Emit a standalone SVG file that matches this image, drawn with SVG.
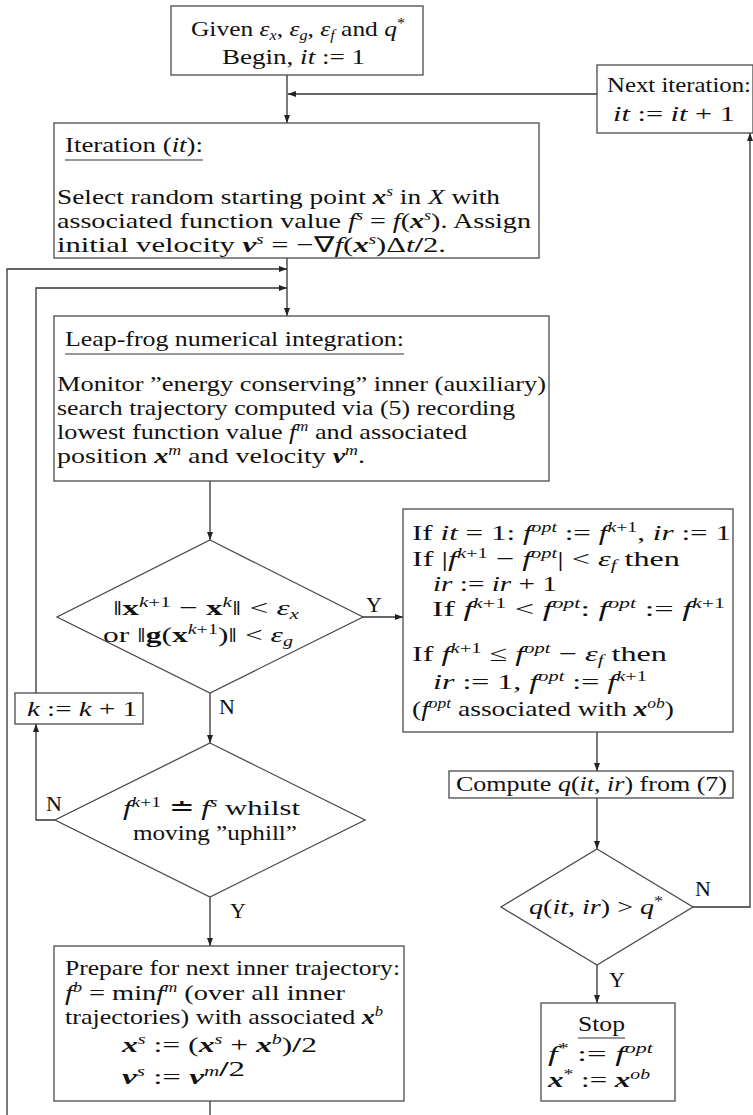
<svg xmlns="http://www.w3.org/2000/svg" width="753" height="1115" viewBox="0 0 753 1115">
<style>
.t{font-family:"Liberation Serif","Times New Roman",serif;font-size:22px;fill:#111}
.i{font-style:italic}
.b{font-style:italic;font-weight:bold}
.bu{font-weight:bold}
.s{font-size:14px;font-style:italic}
.sr{font-size:14px}
.box{fill:#fff;stroke:#4a4a4a;stroke-width:1.3}
.ln{fill:none;stroke:#333;stroke-width:1.3}
.ul{stroke:#333;stroke-width:1.2}
</style>
<defs>
<marker id="ah" markerUnits="userSpaceOnUse" markerWidth="8" markerHeight="6" refX="8" refY="3" orient="auto"><path d="M0,0 L8,3 L0,6 z" fill="#222"/></marker>
</defs>
<rect width="753" height="1115" fill="#fff"/>
<g id="connectors" class="ln">
<path d="M287,75 V123" marker-end="url(#ah)"/>
<path d="M597,94 H288" marker-end="url(#ah)"/>
<path d="M693,907 H750 V133" marker-end="url(#ah)"/>
<path d="M287,258 V316" marker-end="url(#ah)"/>
<path d="M7,1115 V269 H287" marker-end="url(#ah)"/>
<path d="M36,693 V288 H287" marker-end="url(#ah)"/>
<path d="M210,481 V540" marker-end="url(#ah)"/>
<path d="M363,617 H403" marker-end="url(#ah)"/>
<path d="M210,693 V743" marker-end="url(#ah)"/>
<path d="M55,820 H36 V724" marker-end="url(#ah)"/>
<path d="M210,897 V946" marker-end="url(#ah)"/>
<path d="M210,1101 V1115"/>
<path d="M597,732 V771" marker-end="url(#ah)"/>
<path d="M597,798 V849" marker-end="url(#ah)"/>
<path d="M597,965 V1003" marker-end="url(#ah)"/>
</g>
<g id="start">
<rect class="box" x="171" y="6" width="252" height="69"/>
<text class="t" x="191" y="36" textLength="214" lengthAdjust="spacingAndGlyphs">Given <tspan class="i">ε</tspan><tspan class="s" dy="4">x</tspan><tspan dy="-4">, </tspan><tspan class="i">ε</tspan><tspan class="s" dy="4">g</tspan><tspan dy="-4">, </tspan><tspan class="i">ε</tspan><tspan class="s" dy="4">f</tspan><tspan dy="-4"> and </tspan><tspan class="i">q</tspan><tspan class="sr" dy="-8">*</tspan></text>
<text class="t" x="222" y="64" textLength="143" lengthAdjust="spacingAndGlyphs">Begin, <tspan class="i">it</tspan> := 1</text>
</g>
<g id="next-iteration">
<rect class="box" x="597" y="65" width="156" height="68"/>
<text class="t" x="607" y="92" textLength="144" lengthAdjust="spacingAndGlyphs">Next iteration:</text>
<text class="t" x="613" y="121" textLength="122" lengthAdjust="spacingAndGlyphs"><tspan class="i">it</tspan> := <tspan class="i">it</tspan> + 1</text>
</g>
<g id="iteration">
<rect class="box" x="54" y="123" width="485" height="135"/>
<text class="t" x="65" y="152" textLength="138" lengthAdjust="spacingAndGlyphs">Iteration (<tspan class="i">it</tspan>):</text>
<line class="ul" x1="65" y1="160" x2="203" y2="160"/>
<text class="t" x="57" y="204" textLength="443" lengthAdjust="spacingAndGlyphs">Select random starting point <tspan class="b">x</tspan><tspan class="s" dy="-8">s</tspan><tspan dy="8"> in </tspan><tspan class="i">X</tspan> with</text>
<text class="t" x="57" y="228" textLength="474" lengthAdjust="spacingAndGlyphs">associated function value <tspan class="i">f</tspan><tspan class="s" dy="-8">s</tspan><tspan dy="8"> = </tspan><tspan class="i">f</tspan>(<tspan class="b">x</tspan><tspan class="s" dy="-8">s</tspan><tspan dy="8">). Assign</tspan></text>
<text class="t" x="57" y="252" textLength="389" lengthAdjust="spacingAndGlyphs">initial velocity <tspan class="b">v</tspan><tspan class="s" dy="-8">s</tspan><tspan dy="8"> = −∇</tspan><tspan class="i">f</tspan>(<tspan class="b">x</tspan><tspan class="s" dy="-8">s</tspan><tspan dy="8">)Δ</tspan><tspan class="i">t</tspan><tspan class="bu">/</tspan>2.</text>
</g>
<g id="leapfrog">
<rect class="box" x="54" y="316" width="495" height="165"/>
<text class="t" x="65" y="346" textLength="339" lengthAdjust="spacingAndGlyphs">Leap-frog numerical integration:</text>
<line class="ul" x1="65" y1="354" x2="404" y2="354"/>
<text class="t" x="57" y="391" textLength="489" lengthAdjust="spacingAndGlyphs">Monitor ”energy conserving” inner (auxiliary)</text>
<text class="t" x="57" y="415" textLength="458" lengthAdjust="spacingAndGlyphs">search trajectory computed via (5) recording</text>
<text class="t" x="57" y="439" textLength="410" lengthAdjust="spacingAndGlyphs">lowest function value <tspan class="i">f</tspan><tspan class="s" dy="-8">m</tspan><tspan dy="8"> and associated</tspan></text>
<text class="t" x="57" y="463" textLength="308" lengthAdjust="spacingAndGlyphs">position <tspan class="b">x</tspan><tspan class="s" dy="-8">m</tspan><tspan dy="8"> and velocity </tspan><tspan class="b">v</tspan><tspan class="s" dy="-8">m</tspan><tspan dy="8">.</tspan></text>
</g>
<g id="converged">
<polygon class="box" points="210,540 363,617 210,693 57,617"/>
<text class="t" x="113" y="615" textLength="186" lengthAdjust="spacingAndGlyphs">‖<tspan class="bu">x</tspan><tspan class="s" dy="-8">k</tspan><tspan class="sr">+1</tspan><tspan dy="8"> − </tspan><tspan class="bu">x</tspan><tspan class="s" dy="-8">k</tspan><tspan dy="8">‖ &lt; </tspan><tspan class="i">ε</tspan><tspan class="s" dy="4">x</tspan></text>
<text class="t" x="103" y="642" textLength="190" lengthAdjust="spacingAndGlyphs">or ‖<tspan class="bu">g</tspan>(<tspan class="bu">x</tspan><tspan class="s" dy="-8">k</tspan><tspan class="sr">+1</tspan><tspan dy="8">)‖ &lt; </tspan><tspan class="i">ε</tspan><tspan class="s" dy="4">g</tspan></text>
<text class="t" x="366" y="612">Y</text>
<text class="t" x="227" y="714" text-anchor="middle">N</text>
</g>
<g id="update">
<rect class="box" x="403" y="509" width="330" height="223"/>
<text class="t" x="412" y="540" textLength="319" lengthAdjust="spacingAndGlyphs">If <tspan class="i">it</tspan> = 1: <tspan class="i">f</tspan><tspan class="s" dy="-8">opt</tspan><tspan dy="8"> := </tspan><tspan class="i">f</tspan><tspan class="s" dy="-8">k</tspan><tspan class="sr">+1</tspan><tspan dy="8">, </tspan><tspan class="i">ir</tspan> := 1</text>
<text class="t" x="412" y="566" textLength="268" lengthAdjust="spacingAndGlyphs">If |<tspan class="i">f</tspan><tspan class="s" dy="-8">k</tspan><tspan class="sr">+1</tspan><tspan dy="8"> − </tspan><tspan class="i">f</tspan><tspan class="s" dy="-8">opt</tspan><tspan dy="8">| &lt; </tspan><tspan class="i">ε</tspan><tspan class="s" dy="4">f</tspan><tspan dy="-4"> then</tspan></text>
<text class="t" x="433" y="591" textLength="124" lengthAdjust="spacingAndGlyphs"><tspan class="i">ir</tspan> := <tspan class="i">ir</tspan> + 1</text>
<text class="t" x="432" y="616" textLength="293" lengthAdjust="spacingAndGlyphs">If <tspan class="i">f</tspan><tspan class="s" dy="-8">k</tspan><tspan class="sr">+1</tspan><tspan dy="8"> &lt; </tspan><tspan class="i">f</tspan><tspan class="s" dy="-8">opt</tspan><tspan dy="8">: </tspan><tspan class="i">f</tspan><tspan class="s" dy="-8">opt</tspan><tspan dy="8"> := </tspan><tspan class="i">f</tspan><tspan class="s" dy="-8">k</tspan><tspan class="sr">+1</tspan></text>
<text class="t" x="412" y="661" textLength="255" lengthAdjust="spacingAndGlyphs">If <tspan class="i">f</tspan><tspan class="s" dy="-8">k</tspan><tspan class="sr">+1</tspan><tspan dy="8"> ≤ </tspan><tspan class="i">f</tspan><tspan class="s" dy="-8">opt</tspan><tspan dy="8"> − </tspan><tspan class="i">ε</tspan><tspan class="s" dy="4">f</tspan><tspan dy="-4"> then</tspan></text>
<text class="t" x="433" y="689" textLength="214" lengthAdjust="spacingAndGlyphs"><tspan class="i">ir</tspan> := 1, <tspan class="i">f</tspan><tspan class="s" dy="-8">opt</tspan><tspan dy="8"> := </tspan><tspan class="i">f</tspan><tspan class="s" dy="-8">k</tspan><tspan class="sr">+1</tspan></text>
<text class="t" x="412" y="716" textLength="262" lengthAdjust="spacingAndGlyphs">(<tspan class="i">f</tspan><tspan class="s" dy="-8">opt</tspan><tspan dy="8"> associated with </tspan><tspan class="b">x</tspan><tspan class="s" dy="-8">ob</tspan><tspan dy="8">)</tspan></text>
</g>
<g id="compute">
<rect class="box" x="449" y="771" width="284" height="27"/>
<text class="t" x="456" y="791" textLength="271" lengthAdjust="spacingAndGlyphs">Compute <tspan class="i">q</tspan>(<tspan class="i">it</tspan>, <tspan class="i">ir</tspan>) from (7)</text>
</g>
<g id="stop-test">
<polygon class="box" points="597,849 693,907 597,965 501,907"/>
<text class="t" x="529" y="914" textLength="134" lengthAdjust="spacingAndGlyphs"><tspan class="i">q</tspan>(<tspan class="i">it</tspan>, <tspan class="i">ir</tspan>) &gt; <tspan class="i">q</tspan><tspan class="sr" dy="-8">*</tspan></text>
<text class="t" x="703" y="896" text-anchor="middle">N</text>
<text class="t" x="617" y="987" text-anchor="middle">Y</text>
</g>
<g id="stop">
<rect class="box" x="541" y="1003" width="134" height="98"/>
<text class="t" x="578" y="1031" textLength="47" lengthAdjust="spacingAndGlyphs">Stop</text>
<line class="ul" x1="578" y1="1038" x2="625" y2="1038"/>
<text class="t" x="548" y="1061" textLength="105" lengthAdjust="spacingAndGlyphs"><tspan class="i">f</tspan><tspan class="sr" dy="-8">*</tspan><tspan dy="8"> := </tspan><tspan class="i">f</tspan><tspan class="s" dy="-8">opt</tspan></text>
<text class="t" x="548" y="1087" textLength="102" lengthAdjust="spacingAndGlyphs"><tspan class="b">x</tspan><tspan class="sr" dy="-8">*</tspan><tspan dy="8"> := </tspan><tspan class="b">x</tspan><tspan class="s" dy="-8">ob</tspan></text>
</g>
<g id="uphill-test">
<polygon class="box" points="210,743 365,820 210,897 55,820"/>
<text class="t" x="123" y="815" textLength="177" lengthAdjust="spacingAndGlyphs"><tspan class="i">f</tspan><tspan class="s" dy="-8">k</tspan><tspan class="sr">+1</tspan><tspan dy="8"> ≐ </tspan><tspan class="i">f</tspan><tspan class="s" dy="-8">s</tspan><tspan dy="8"> whilst</tspan></text>
<text class="t" x="133" y="840" textLength="164" lengthAdjust="spacingAndGlyphs">moving ”uphill”</text>
<text class="t" x="54" y="811" text-anchor="middle">N</text>
<text class="t" x="238" y="918" text-anchor="middle">Y</text>
</g>
<g id="k-increment">
<rect class="box" x="15" y="693" width="128" height="31"/>
<text class="t" x="27" y="716" textLength="110" lengthAdjust="spacingAndGlyphs"><tspan class="i">k</tspan> := <tspan class="i">k</tspan> + 1</text>
</g>
<g id="prepare">
<rect class="box" x="54" y="946" width="350" height="155"/>
<text class="t" x="65" y="975" textLength="335" lengthAdjust="spacingAndGlyphs">Prepare for next inner trajectory:</text>
<text class="t" x="65" y="1000" textLength="280" lengthAdjust="spacingAndGlyphs"><tspan class="i">f</tspan><tspan class="s" dy="-8">b</tspan><tspan dy="8"> = min</tspan><tspan class="i">f</tspan><tspan class="s" dy="-8">m</tspan><tspan dy="8"> (over all inner</tspan></text>
<text class="t" x="65" y="1024" textLength="318" lengthAdjust="spacingAndGlyphs">trajectories) with associated <tspan class="b">x</tspan><tspan class="s" dy="-8">b</tspan></text>
<text class="t" x="122" y="1052" textLength="195" lengthAdjust="spacingAndGlyphs"><tspan class="b">x</tspan><tspan class="s" dy="-8">s</tspan><tspan dy="8"> := (</tspan><tspan class="b">x</tspan><tspan class="s" dy="-8">s</tspan><tspan dy="8"> + </tspan><tspan class="b">x</tspan><tspan class="s" dy="-8">b</tspan><tspan dy="8">)</tspan><tspan class="bu">/</tspan>2</text>
<text class="t" x="122" y="1084" textLength="123" lengthAdjust="spacingAndGlyphs"><tspan class="b">v</tspan><tspan class="s" dy="-8">s</tspan><tspan dy="8"> := </tspan><tspan class="b">v</tspan><tspan class="s" dy="-8">m</tspan><tspan dy="8"></tspan><tspan class="bu">/</tspan>2</text>
</g>
</svg>
